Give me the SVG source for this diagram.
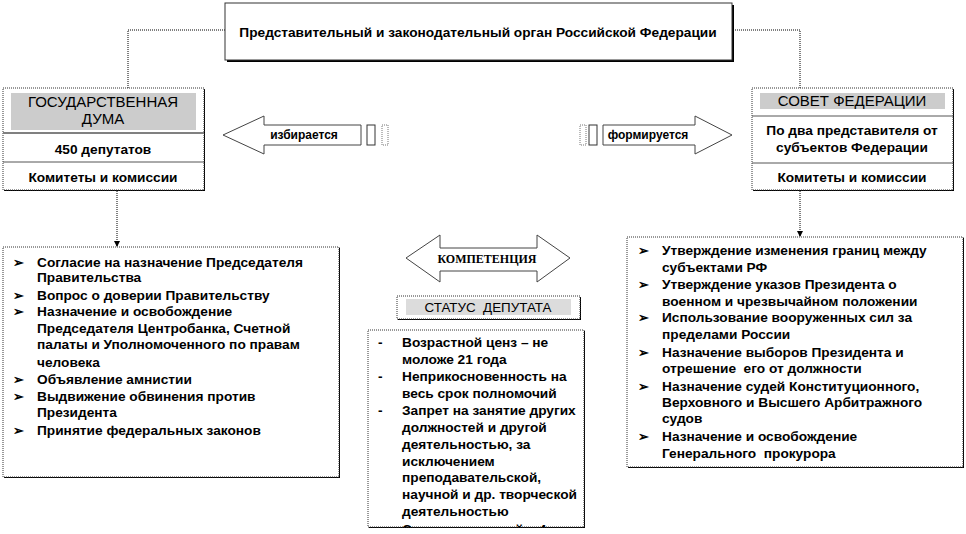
<svg xmlns="http://www.w3.org/2000/svg" width="966" height="534" viewBox="0 0 966 534">
<style>
text{font-family:"Liberation Sans",Arial,sans-serif;fill:#000}
.b{font-weight:bold;font-size:13.7px}
.r{font-size:15px}
.c{text-anchor:middle}
.pre{white-space:pre}
.box{fill:#fff;stroke:#333;stroke-width:1;stroke-dasharray:1 1}
.sh{fill:#000}
.sep{stroke:#555;stroke-width:1}
.sep2{stroke:#808080;stroke-width:2}
.con{fill:none;stroke:#000;stroke-width:1;stroke-dasharray:1 1}
.arr{fill:#fff;stroke:#444;stroke-width:1}
.bul{font-family:"DejaVu Sans",sans-serif;font-size:13px;font-weight:bold}
.sm{font-weight:bold;font-size:12px}
</style>
<defs>
<marker id="ah" viewBox="0 0 6 6" refX="5" refY="3" markerWidth="6" markerHeight="6" orient="auto" markerUnits="userSpaceOnUse">
<path d="M0,0 L6,3 L0,6 Z" fill="#000"/>
</marker>
<clipPath id="stclip"><rect x="368" y="330" width="216" height="197"/></clipPath>
</defs>

<g id="connectors">
<path class="con" d="M225,30 H128 V88"/>
<path class="con" d="M733,30 H800 V88"/>
<path class="con" d="M117,191 V246" marker-end="url(#ah)"/>
<path class="con" d="M800,191 V236" marker-end="url(#ah)"/>
</g>

<g id="top">
<rect class="sh" x="227" y="5" width="507" height="57"/>
<rect x="225" y="3" width="507" height="57" fill="#fff" stroke="#333" stroke-width="1"/>
<text class="b c" x="478" y="37">Представительный и законодательный орган Российской Федерации</text>
</g>

<g id="duma">
<rect class="sh" x="4" y="89" width="201" height="102"/>
<rect class="box" x="3" y="88" width="201" height="102"/>
<rect x="11" y="93" width="185" height="37" fill="#cccccc"/>
<text class="r c" x="103" y="107">ГОСУДАРСТВЕННАЯ</text>
<text class="r c" x="103" y="124">ДУМА</text>
<line class="sep2" x1="3" y1="133" x2="204" y2="133"/>
<text class="b c" x="103" y="154">450 депутатов</text>
<line class="sep" x1="3" y1="162" x2="204" y2="162"/>
<text class="b c" x="103" y="182">Комитеты и комиссии</text>
</g>

<g id="sovet">
<rect class="sh" x="753" y="89" width="201" height="102"/>
<rect class="box" x="752" y="88" width="201" height="102"/>
<rect x="760" y="93" width="185" height="16" fill="#cccccc"/>
<text class="r c" x="852" y="106">СОВЕТ ФЕДЕРАЦИИ</text>
<line class="sep" x1="752" y1="116" x2="953" y2="116"/>
<text class="b c" x="852" y="135">По два представителя от</text>
<text class="b c" x="852" y="152">субъектов Федерации</text>
<line class="sep" x1="752" y1="163" x2="953" y2="163"/>
<text class="b c" x="852" y="182">Комитеты и комиссии</text>
</g>

<g id="izbiraetsya">
<polygon class="arr" points="223,135 264,116 264,125 361,125 361,145 264,145 264,154"/>
<text class="sm c" x="304" y="139">избирается</text>
<rect x="367" y="125" width="8" height="20" fill="#fff" stroke="#333"/>
<rect x="382" y="125" width="6" height="20" fill="#fff" stroke="#777" stroke-dasharray="1 1"/>
</g>

<g id="formiruetsya">
<rect x="580" y="125" width="6" height="20" fill="#fff" stroke="#777" stroke-dasharray="1 1"/>
<rect x="589" y="125" width="8" height="20" fill="#fff" stroke="#333"/>
<polygon class="arr" points="603,125 695,125 695,116 732,135 695,154 695,145 603,145"/>
<text class="sm c" x="648" y="139">формируется</text>
</g>

<g id="kompetenciya">
<polygon class="arr" points="406,258 440,235 440,248 537,248 537,235 570,258 537,282 537,271 440,271 440,282"/>
<text class="c" x="487" y="263" style="font-family:'Liberation Serif',serif;font-weight:bold;font-size:12px">КОМПЕТЕНЦИЯ</text>
</g>

<g id="status-header">
<rect class="sh" x="398" y="297" width="183" height="23"/>
<rect x="397" y="296" width="183" height="23" fill="#fff" stroke="#333" stroke-dasharray="1 1"/>
<rect x="406" y="299" width="165" height="16" fill="#dcdcdc"/>
<text class="c pre" x="488" y="312" style="font-size:13.4px">СТАТУС  ДЕПУТАТА</text>
</g>

<g id="duma-list">
<rect class="sh" x="4" y="248" width="336" height="230"/>
<rect class="box" x="3" y="247" width="336" height="230"/>
<g class="bul">
<text x="13" y="267">➢</text><text x="13" y="300">➢</text><text x="13" y="316">➢</text>
<text x="13" y="384">➢</text><text x="13" y="401">➢</text><text x="13" y="435">➢</text>
</g>
<g class="b">
<text x="37" y="267">Согласие на назначение Председателя</text>
<text x="37" y="282">Правительства</text>
<text x="37" y="300">Вопрос о доверии Правительству</text>
<text x="37" y="316">Назначение и освобождение</text>
<text x="37" y="333">Председателя Центробанка, Счетной</text>
<text x="37" y="349">палаты и Уполномоченного по правам</text>
<text x="37" y="367">человека</text>
<text x="37" y="384">Объявление амнистии</text>
<text x="37" y="401">Выдвижение обвинения против</text>
<text x="37" y="417">Президента</text>
<text x="37" y="435">Принятие федеральных законов</text>
</g>
</g>

<g id="status-list">
<rect class="sh" x="369" y="331" width="216" height="197"/>
<rect class="box" x="368" y="330" width="216" height="197"/>
<g clip-path="url(#stclip)">
<g class="b">
<text x="378" y="347">-</text><text x="378" y="381">-</text><text x="378" y="415">-</text>
<text x="402" y="347">Возрастной ценз – не</text>
<text x="402" y="364">моложе 21 года</text>
<text x="402" y="381">Неприкосновенность на</text>
<text x="402" y="398">весь срок полномочий</text>
<text x="402" y="415">Запрет на занятие других</text>
<text x="402" y="432">должностей и другой</text>
<text x="402" y="449">деятельностью, за</text>
<text x="402" y="466">исключением</text>
<text x="402" y="482">преподавательской,</text>
<text x="402" y="499">научной и др. творческой</text>
<text x="402" y="516">деятельностью</text>
<text x="402" y="534">Срок полномочий – 4 года</text>
</g>
</g>
</g>

<g id="sovet-list">
<rect class="sh" x="628" y="238" width="336" height="230"/>
<rect class="box" x="627" y="237" width="336" height="230"/>
<g class="bul">
<text x="638" y="255">➢</text><text x="638" y="289">➢</text><text x="638" y="322">➢</text>
<text x="638" y="357">➢</text><text x="638" y="391">➢</text><text x="638" y="441">➢</text>
</g>
<g class="b">
<text x="662" y="255">Утверждение изменения границ между</text>
<text x="662" y="272">субъектами РФ</text>
<text x="662" y="289">Утверждение указов Президента о</text>
<text x="662" y="306">военном и чрезвычайном положении</text>
<text x="662" y="322">Использование вооруженных сил за</text>
<text x="662" y="339">пределами России</text>
<text x="662" y="357">Назначение выборов Президента и</text>
<text class="pre" x="662" y="373">отрешение  его от должности</text>
<text x="662" y="391">Назначение судей Конституционного,</text>
<text x="662" y="407">Верховного и Высшего Арбитражного</text>
<text x="662" y="423">судов</text>
<text x="662" y="441">Назначение и освобождение</text>
<text class="pre" x="662" y="458">Генерального  прокурора</text>
</g>
</g>
</svg>
